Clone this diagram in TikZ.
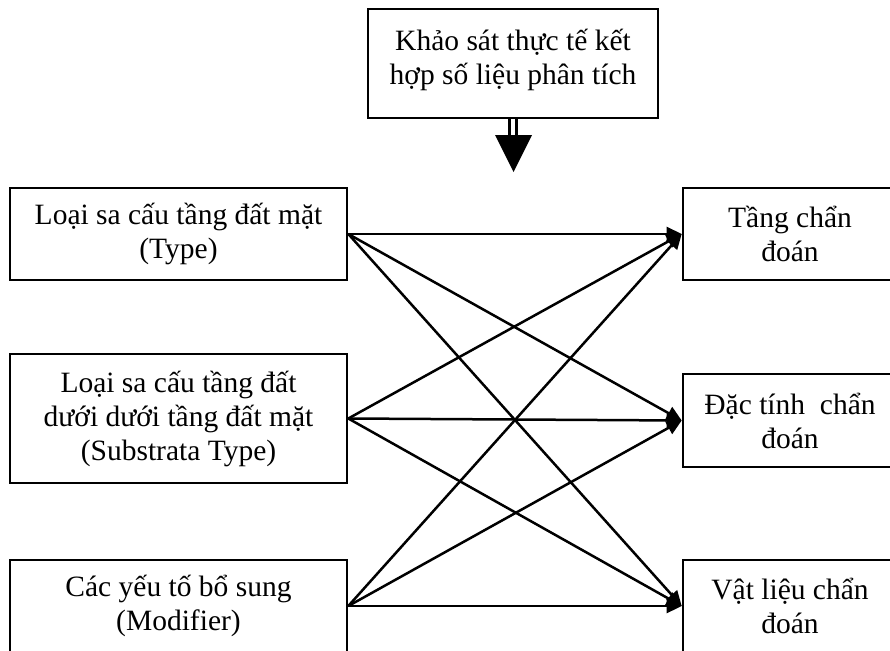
\documentclass[tikz,border=0pt]{standalone}
\usepackage{fontspec}
\setmainfont{Liberation Serif}
\usetikzlibrary{arrows.meta}
\begin{document}
\begin{tikzpicture}[x=1pt,y=-1pt,
  box/.style={draw, line width=2.6pt, align=center, inner sep=0pt,
    font=\fontsize{29.5}{34}\selectfont},
  txt/.style={align=center, inner sep=0pt, font=\fontsize{29.5}{34}\selectfont},
  conn/.style={line width=2.5pt, -{Triangle[length=15pt,width=14pt]}}]
\useasboundingbox (0,0) rectangle (890,650);
\clip (0,0) rectangle (890,650);
% top box
\node[box, minimum width=290pt, minimum height=109pt] (survey) at (513,63.5) {};
\node[txt] (surveytext) at (513,60) {Khảo sát thực tế kết\\hợp số liệu phân tích};
% left boxes
\node[box, minimum width=337pt, minimum height=92pt] (type) at (178.5,234) {Loại sa cấu tầng đất mặt\\(Type)};
\node[box, minimum width=337pt, minimum height=129pt] (sub) at (178.5,418.5) {Loại sa cấu tầng đất\\dưới dưới tầng đất mặt\\(Substrata Type)};
\node[box, minimum width=337pt, minimum height=92pt] (mod) at (178.5,606) {Các yếu tố bổ sung\\(Modifier)};
% right boxes
\node[box, minimum width=214pt, minimum height=92pt] (tang) at (790,234) {Tầng chẩn\\đoán};
\node[box, minimum width=214pt, minimum height=93pt] (dac) at (790,420.5) {Đặc tính\ \ chẩn\\đoán};
\node[box, minimum width=214pt, minimum height=92pt] (vat) at (790,606) {Vật liệu chẩn\\đoán};
% connectors
\foreach \s in {type,sub,mod}{
  \foreach \t in {tang,dac,vat}{
    \draw[conn] (\s.east) -- (\t.west);
  }
}
% top double arrow
\coordinate (headL) at (495,135);
\coordinate (headR) at (532,135);
\coordinate (arrtip) at (513.5,172);
\draw[line width=3pt] ([xshift=-3.5pt]survey.south) -- ([xshift=-3.5pt]survey.south |- headL);
\draw[line width=3pt] ([xshift=3.5pt]survey.south) -- ([xshift=3.5pt]survey.south |- headL);
\fill (headL) -- (headR) -- (arrtip) -- cycle;
\end{tikzpicture}
\end{document}
